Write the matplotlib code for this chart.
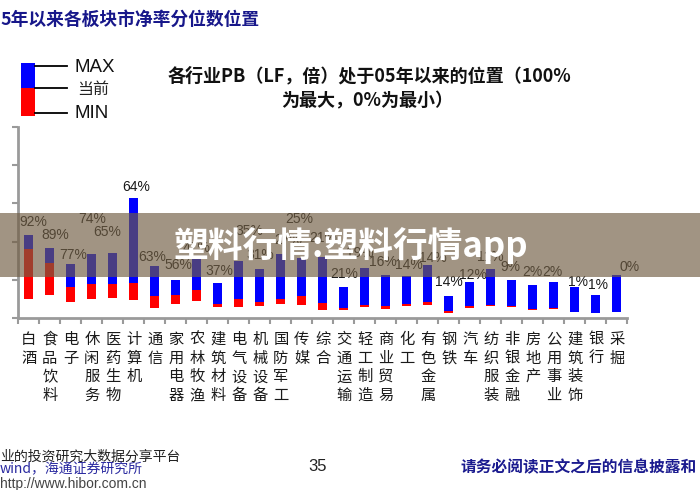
import matplotlib
matplotlib.use('Agg')
import matplotlib.pyplot as plt
from matplotlib.patches import Rectangle
from matplotlib.lines import Line2D

plt.rcParams['font.family'] = ['Noto Sans CJK SC', 'DejaVu Sans']

# ---------------- data ----------------
categories = ['白酒', '食品饮料', '电子', '休闲服务', '医药生物', '计算机', '通信', '家用电器',
              '农林牧渔', '建筑材料', '电气设备', '机械设备', '国防军工', '传媒', '综合', '交通运输',
              '轻工制造', '商业贸易', '化工', '有色金属', '钢铁', '汽车', '纺织服装', '非银金融',
              '房地产', '公用事业', '建筑装饰', '银行', '采掘']
pb_max = [2.17, 1.84, 1.42, 1.68, 1.71, 3.14, 1.36, 1.00, 1.56, 0.91, 1.50, 1.27, 1.68, 1.58, 1.60,
          0.82, 1.32, 1.13, 1.09, 1.40, 0.58, 0.93, 1.28, 0.99, 0.87, 0.95, 0.82, 0.60, 1.12]
pb_cur = [1.80, 1.45, 0.80, 0.88, 0.89, 0.92, 0.58, 0.61, 0.72, 0.37, 0.50, 0.43, 0.50, 0.58, 0.40,
          0.27, 0.35, 0.32, 0.37, 0.42, 0.18, 0.31, 0.35, 0.32, 0.24, 0.27, 0.17, 0.13, 0.165]
pb_min = [0.49, 0.59, 0.41, 0.49, 0.52, 0.47, 0.26, 0.36, 0.45, 0.30, 0.30, 0.32, 0.37, 0.33, 0.22,
          0.21, 0.28, 0.24, 0.31, 0.33, 0.14, 0.27, 0.31, 0.29, 0.21, 0.24, 0.16, 0.12, 0.165]
pct_labels = ['92%', '89%', '77%', '74%', '65%', '64%', '63%', '56%', '47%', '37%', '35%', '31%',
              '27%', '25%', '21%', '21%', '19%', '16%', '14%', '14%', '14%', '12%', '11%', '9%',
              '2%', '2%', '1%', '1%', '0%']

# label placement (pixels relative to bar top centre) - layout only
label_dx = [5, 5, 2, 0, -6, 2, -3, 3, 0, 2, 11, 0, 7, -3, 0, 0, -5, -3, 2, 5, 0, 3, 0, -1, 0, -1, 3, 2, 13]
label_dy = [13, 13, 9, 35, 21, 11, 9, 15, 10, 12, 30, 14, 14, 39, 19, 13, 15, 13, 11, 7, 14, 7, 12, 13,
            13, 10, 5, 10, 8]

W, H = 700, 490
fig = plt.figure(figsize=(7, 4.9), dpi=100)
fig.patch.set_facecolor('white')

# axes placed in pixel terms
ax_l, ax_r, ax_b, ax_t = 18.3, 627.3, 318, 127
ax = fig.add_axes([ax_l / W, 1 - ax_b / H, (ax_r - ax_l) / W, (ax_b - ax_t) / H])
n = len(categories)
xs = [i + 0.5 for i in range(n)]
bw = 0.44
ax.bar(xs, [c - m for c, m in zip(pb_cur, pb_min)], bottom=pb_min, width=bw,
       color='#FF0000', edgecolor='none', zorder=2)
ax.bar(xs, [M - c for M, c in zip(pb_max, pb_cur)], bottom=pb_cur, width=bw,
       color='#0000FF', edgecolor='none', zorder=2)

for x, top, lab, dx, dy in zip(xs, pb_max, pct_labels, label_dx, label_dy):
    ax.annotate(lab, (x, top), xytext=(dx * 0.72, dy * 0.72), textcoords='offset points',
                ha='center', va='center', fontsize=10, color='#1a1a1a',
                family=['Liberation Sans', 'DejaVu Sans'], zorder=3)

ax.set_xlim(0, n)
ax.set_ylim(0, 5)
ax.set_yticks(range(6))
ax.set_yticklabels([])
ax.set_xticks(range(n + 1))
ax.set_xticklabels([])
ax.tick_params(axis='both', color='#9a9a9a', width=1.5, length=4.5, direction='out')
for s in ['top', 'right']:
    ax.spines[s].set_visible(False)
for s in ['left', 'bottom']:
    ax.spines[s].set_color('#9a9a9a')
    ax.spines[s].set_linewidth(2)
ax.set_facecolor('none')

# vertical category labels
xt = ax.get_xaxis_transform()
for x, name in zip(xs, categories):
    ax.text(x, -0.068, '\n'.join(name), transform=xt, ha='center', va='top',
            fontsize=11, linespacing=1.13, color='#1a1a1a', clip_on=False)

# ---------------- title ----------------
fig.text(0 / W, 1 - 20 / H, '5年以来各板块市净率分位数位置', ha='left', va='center',
         fontsize=12.8, fontweight='bold', color='#17178A')

# ---------------- legend ----------------
def fx(px):
    return px / W

def fy(py):
    return 1 - py / H

fig.add_artist(Rectangle((fx(21), fy(88)), fx(35) - fx(21), fy(63) - fy(88),
                         transform=fig.transFigure, color='#0000FF', lw=0))
fig.add_artist(Rectangle((fx(21), fy(116)), fx(35) - fx(21), fy(88) - fy(116),
                         transform=fig.transFigure, color='#FF0000', lw=0))
for py in [66, 88, 113]:
    fig.add_artist(Line2D([fx(35), fx(67)], [fy(py), fy(py)], transform=fig.transFigure,
                          color='black', lw=1.3))
fig.text(fx(74), fy(68), 'MAX', ha='left', va='center', fontsize=13.5,
         family=['Liberation Sans', 'DejaVu Sans'], color='#111111')
fig.text(fx(77), fy(89), '当前', ha='left', va='center', fontsize=11.5, color='#222222')
fig.text(fx(74), fy(114), 'MIN', ha='left', va='center', fontsize=13.5,
         family=['Liberation Sans', 'DejaVu Sans'], color='#111111')

# ---------------- note ----------------
fig.text(fx(369), fy(76), '各行业PB（LF，倍）处于05年以来的位置（100%', ha='center', va='center',
         fontsize=13, fontweight='bold', color='#111111')
fig.text(fx(367), fy(101), '为最大，0%为最小）', ha='center', va='center',
         fontsize=13, fontweight='bold', color='#111111')

# ---------------- footer ----------------
fig.text(fx(0), fy(457), '业的投资研究大数据分享平台', ha='left', va='center', fontsize=10,
         color='#222222')
fig.text(fx(0), fy(469), 'wind，海通证券研究所', ha='left', va='center', fontsize=10,
         color='#2a2aa0')
fig.text(fx(0), fy(484), 'http://www.hibor.com.cn', ha='left', va='center', fontsize=10,
         family=['Liberation Sans', 'DejaVu Sans'], color='#444444')
fig.text(fx(318), fy(466), '35', ha='center', va='center', fontsize=12,
         family=['Liberation Sans', 'DejaVu Sans'], color='#222222')
fig.text(fx(460), fy(467), '请务必阅读正文之后的信息披露和', ha='left', va='center',
         fontsize=11.3, fontweight='bold', color='#1b1b8f')

# ---------------- watermark overlay ----------------
fig.add_artist(Rectangle((0, fy(277)), 1, fy(213) - fy(277), transform=fig.transFigure,
                         color='#705D43', alpha=0.66, lw=0, zorder=10))
fig.text(fx(351), fy(246), '塑料行情:塑料行情app', ha='center', va='center', fontsize=25,
         fontweight='bold', color='white', zorder=11)

fig.savefig('out.png', dpi=100, facecolor='white')
